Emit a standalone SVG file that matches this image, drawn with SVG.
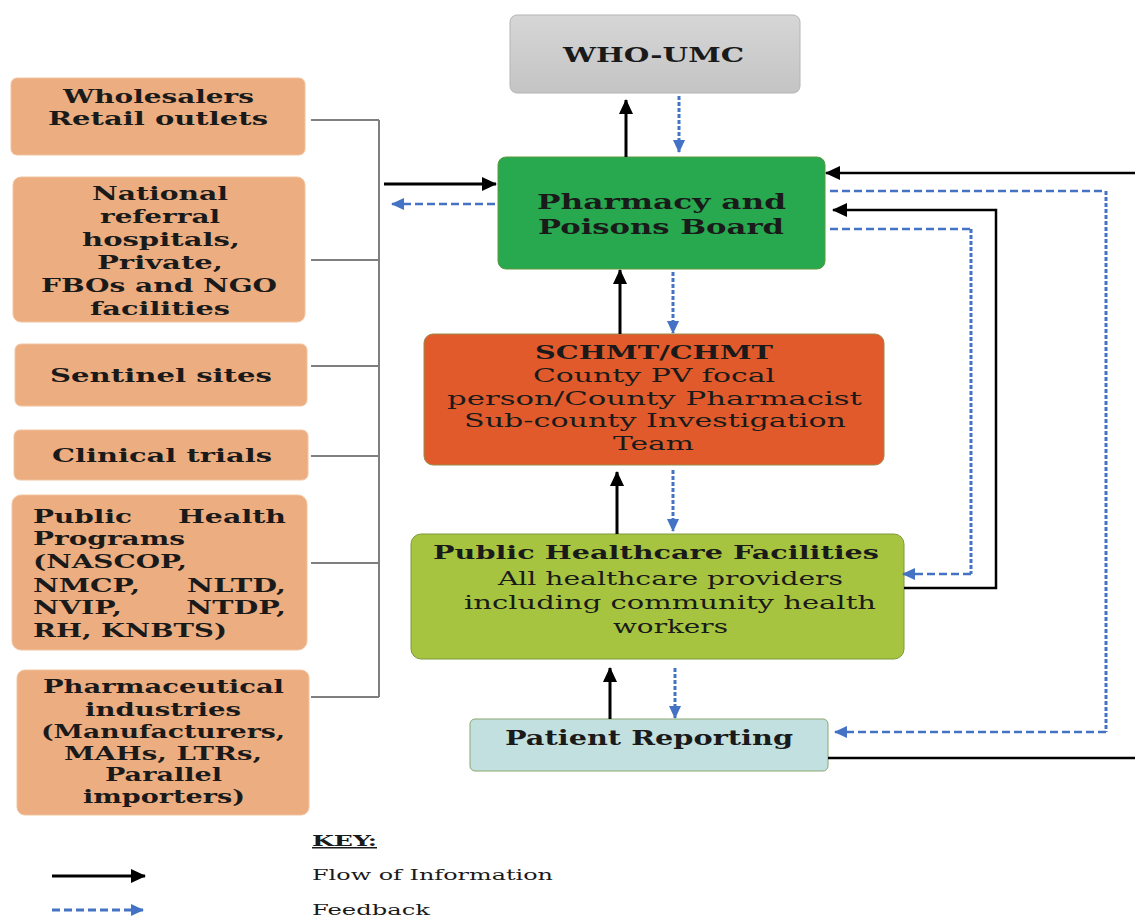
<svg xmlns="http://www.w3.org/2000/svg" width="1135" height="918" viewBox="0 0 1135 918">
<style>
text{font-family:"DejaVu Serif","Liberation Serif",serif;fill:#1a1a1a}
.b{font-weight:bold}
.l text{font-weight:bold;font-size:19px}
.left rect{fill:#ecad80;stroke:#f2c4a0;stroke-width:1}
.bus{stroke:#7f7f7f;stroke-width:2;fill:none}
.flow{stroke:#000;stroke-width:3;fill:none}
.fb{stroke:#4472c4;stroke-width:2.5;fill:none;stroke-dasharray:8 4}
.fv{stroke:#4472c4;stroke-width:3;fill:none;stroke-dasharray:4 2}
</style>
<defs>
<linearGradient id="g" x1="0" y1="0" x2="0" y2="1"><stop offset="0" stop-color="#d6d6d6"/><stop offset="1" stop-color="#c4c4c4"/></linearGradient>
<marker id="ab" markerUnits="userSpaceOnUse" markerWidth="16" markerHeight="16" refX="14" refY="8" orient="auto"><path d="M0,1 L15,8 L0,15 Z" fill="#000"/></marker>
<marker id="af" markerUnits="userSpaceOnUse" markerWidth="14" markerHeight="14" refX="12" refY="7" orient="auto"><path d="M0,1 L13,7 L0,13 Z" fill="#4472c4"/></marker>
</defs>
<rect width="1135" height="918" fill="#fff"/>

<g id="who">
<rect x="510" y="15" width="290" height="78" rx="7" fill="url(#g)" stroke="#b5b5b5"/>
<text class="b" x="563" y="62" font-size="20" textLength="181" lengthAdjust="spacingAndGlyphs">WHO-UMC</text>
</g>
<g id="ppb">
<rect x="498" y="157" width="327" height="112" rx="8" fill="#28a84f" stroke="#5a9a3a"/>
<text class="b" x="537" y="209" font-size="20" textLength="249" lengthAdjust="spacingAndGlyphs">Pharmacy and</text>
<text class="b" x="538" y="234" font-size="20" textLength="246" lengthAdjust="spacingAndGlyphs">Poisons Board</text>
</g>
<g id="schmt">
<rect x="424" y="334" width="460" height="131" rx="9" fill="#e15a2b" stroke="#9a8a4a"/>
<text class="b" x="535" y="359" font-size="19" textLength="238" lengthAdjust="spacingAndGlyphs">SCHMT/CHMT</text>
<text x="533" y="382" font-size="19" textLength="242" lengthAdjust="spacingAndGlyphs">County PV focal</text>
<text x="447" y="405" font-size="19" textLength="415" lengthAdjust="spacingAndGlyphs">person/County Pharmacist</text>
<text x="464" y="427" font-size="19" textLength="382" lengthAdjust="spacingAndGlyphs">Sub-county Investigation</text>
<text x="613" y="450" font-size="19" textLength="81" lengthAdjust="spacingAndGlyphs">Team</text>
</g>
<g id="phf">
<rect x="411" y="534" width="493" height="125" rx="10" fill="#a6c43f" stroke="#7f9a3a"/>
<text class="b" x="433" y="559" font-size="19" textLength="446" lengthAdjust="spacingAndGlyphs">Public Healthcare Facilities</text>
<text x="498" y="585" font-size="19" textLength="345" lengthAdjust="spacingAndGlyphs">All healthcare providers</text>
<text x="464" y="609" font-size="19" textLength="412" lengthAdjust="spacingAndGlyphs">including community health</text>
<text x="613" y="633" font-size="19" textLength="115" lengthAdjust="spacingAndGlyphs">workers</text>
</g>
<g id="patient">
<rect x="470" y="719" width="358" height="52" rx="5" fill="#c2e0df" stroke="#8aa870"/>
<text class="b" x="505" y="745" font-size="20" textLength="288" lengthAdjust="spacingAndGlyphs">Patient Reporting</text>
</g>

<g class="left l">
<g id="wholesalers"><rect x="11" y="78" width="294" height="77" rx="6"/>
<text x="63" y="103" textLength="191" lengthAdjust="spacingAndGlyphs">Wholesalers</text>
<text x="48" y="125" textLength="220" lengthAdjust="spacingAndGlyphs">Retail outlets</text></g>
<g id="national"><rect x="13" y="177" width="292" height="145" rx="8"/>
<text x="92" y="200" textLength="136" lengthAdjust="spacingAndGlyphs">National</text>
<text x="100" y="223" textLength="120" lengthAdjust="spacingAndGlyphs">referral</text>
<text x="82" y="246" textLength="158" lengthAdjust="spacingAndGlyphs">hospitals,</text>
<text x="97" y="269" textLength="126" lengthAdjust="spacingAndGlyphs">Private,</text>
<text x="41" y="292" textLength="236" lengthAdjust="spacingAndGlyphs">FBOs and NGO</text>
<text x="90" y="315" textLength="140" lengthAdjust="spacingAndGlyphs">facilities</text></g>
<g id="sentinel"><rect x="15" y="344" width="292" height="62" rx="6"/>
<text x="50" y="382" textLength="222" lengthAdjust="spacingAndGlyphs">Sentinel sites</text></g>
<g id="clinical"><rect x="14" y="430" width="294" height="50" rx="6"/>
<text x="52" y="462" textLength="220" lengthAdjust="spacingAndGlyphs">Clinical trials</text></g>
<g id="php"><rect x="12" y="495" width="295" height="155" rx="9"/>
<text x="33" y="523" textLength="99" lengthAdjust="spacingAndGlyphs">Public</text>
<text x="178" y="523" textLength="108" lengthAdjust="spacingAndGlyphs">Health</text>
<text x="33" y="545" textLength="152" lengthAdjust="spacingAndGlyphs">Programs</text>
<text x="33" y="568" textLength="154" lengthAdjust="spacingAndGlyphs">(NASCOP,</text>
<text x="33" y="592" textLength="107" lengthAdjust="spacingAndGlyphs">NMCP,</text>
<text x="187" y="592" textLength="99" lengthAdjust="spacingAndGlyphs">NLTD,</text>
<text x="33" y="614" textLength="89" lengthAdjust="spacingAndGlyphs">NVIP,</text>
<text x="186" y="614" textLength="100" lengthAdjust="spacingAndGlyphs">NTDP,</text>
<text x="33" y="637" textLength="194" lengthAdjust="spacingAndGlyphs">RH, KNBTS)</text></g>
<g id="pharma"><rect x="17" y="670" width="292" height="145" rx="8"/>
<text x="43" y="693" textLength="241" lengthAdjust="spacingAndGlyphs">Pharmaceutical</text>
<text x="85" y="716" textLength="156" lengthAdjust="spacingAndGlyphs">industries</text>
<text x="41" y="738" textLength="244" lengthAdjust="spacingAndGlyphs">(Manufacturers,</text>
<text x="64" y="760" textLength="198" lengthAdjust="spacingAndGlyphs">MAHs, LTRs,</text>
<text x="105" y="781" textLength="117" lengthAdjust="spacingAndGlyphs">Parallel</text>
<text x="83" y="803" textLength="162" lengthAdjust="spacingAndGlyphs">importers)</text></g>
</g>

<g id="connectors">
<path class="bus" d="M311,120 H379 M311,260 H379 M311,366 H379 M311,456 H379 M311,563 H379 M311,697 H379 M379,120 V697"/>
<path class="flow" d="M384,184 H496" marker-end="url(#ab)"/>
<path class="fb" d="M495,204 H392" marker-end="url(#af)"/>
<path class="flow" d="M626,157 V100" marker-end="url(#ab)"/>
<path class="fv" d="M679,96 V152" marker-end="url(#af)"/>
<path class="flow" d="M620,334 V270" marker-end="url(#ab)"/>
<path class="fv" d="M673,272 V333" marker-end="url(#af)"/>
<path class="flow" d="M617,534 V472" marker-end="url(#ab)"/>
<path class="fv" d="M673,470 V531" marker-end="url(#af)"/>
<path class="flow" d="M610,719 V668" marker-end="url(#ab)"/>
<path class="fv" d="M675,668 V718" marker-end="url(#af)"/>
<path class="flow" style="stroke-width:2.5" d="M828,758 H1135"/>
<path class="flow" style="stroke-width:2.5" d="M1135,173 H826" marker-end="url(#ab)"/>
<path class="fb" d="M830,191 H1106"/>
<path class="fv" d="M1106,191 V732"/>
<path class="fb" d="M1106,732 H835" marker-end="url(#af)"/>
<path class="flow" style="stroke-width:2.5" d="M904,588 H996 V210 H833" marker-end="url(#ab)"/>
<path class="fb" d="M830,229 H971"/>
<path class="fv" d="M971,229 V574"/>
<path class="fb" d="M971,574 H903" marker-end="url(#af)"/>
</g>

<g id="key">
<text class="b" x="312" y="846" font-size="15" text-decoration="underline" textLength="65" lengthAdjust="spacingAndGlyphs">KEY:</text>
<text x="312" y="880" font-size="15" textLength="241" lengthAdjust="spacingAndGlyphs">Flow of Information</text>
<text x="312" y="915" font-size="15" textLength="118" lengthAdjust="spacingAndGlyphs">Feedback</text>
<path class="flow" d="M52,876 H145" marker-end="url(#ab)"/>
<path class="fb" style="stroke-width:3" d="M52,910 H143" marker-end="url(#af)"/>
</g>
</svg>
